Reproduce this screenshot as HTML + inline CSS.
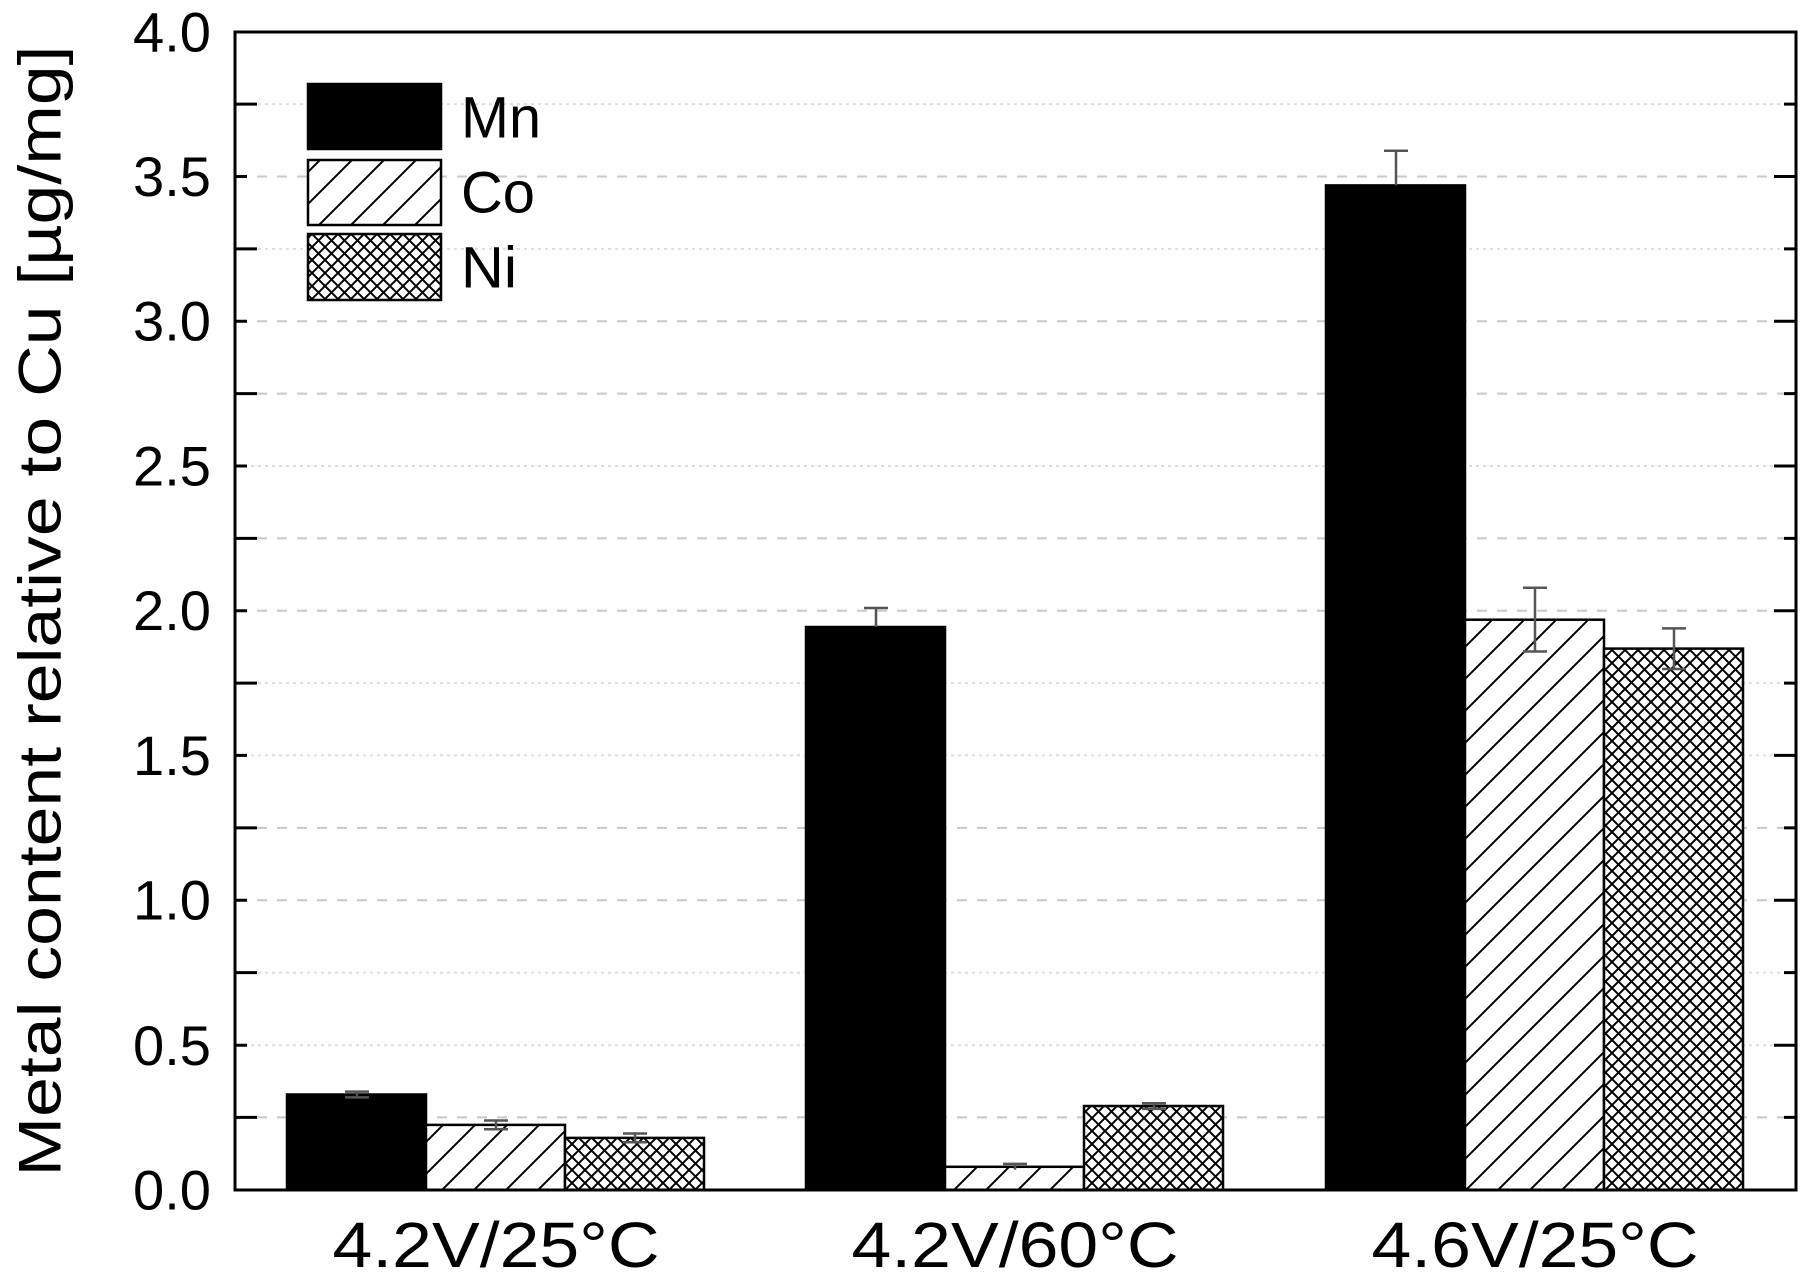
<!DOCTYPE html>
<html><head><meta charset="utf-8"><style>html,body{margin:0;padding:0;background:#fff}svg{display:block}</style></head>
<body>
<svg width="1800" height="1275" viewBox="0 0 1800 1275" xmlns="http://www.w3.org/2000/svg" font-family="'Liberation Sans', Arial, sans-serif">
<defs>
<pattern id="diag" patternUnits="userSpaceOnUse" width="32" height="32">
<rect width="32" height="32" fill="#fff"/>
<path d="M-8,40 L40,-8 M-24,24 L24,-24 M8,56 L56,8" stroke="#000" stroke-width="2"/>
</pattern>
<pattern id="cross" patternUnits="userSpaceOnUse" width="13" height="13">
<rect width="13" height="13" fill="#fff"/>
<path d="M0,0 L13,13 M13,0 L0,13" stroke="#000" stroke-width="2"/>
</pattern>
</defs>
<g stroke="#c8c8c8" stroke-width="2">
<line x1="237" x2="1794" y1="1045.3" y2="1045.3" stroke-dasharray="3,4" stroke="#ddd"/>
<line x1="237" x2="1794" y1="900.2" y2="900.2" stroke-dasharray="10,10"/>
<line x1="237" x2="1794" y1="755.4" y2="755.4" stroke-dasharray="3,4" stroke="#ddd"/>
<line x1="237" x2="1794" y1="610.7" y2="610.7" stroke-dasharray="10,10"/>
<line x1="237" x2="1794" y1="466" y2="466" stroke-dasharray="3,4" stroke="#ddd"/>
<line x1="237" x2="1794" y1="321.2" y2="321.2" stroke-dasharray="10,10"/>
<line x1="237" x2="1794" y1="176.5" y2="176.5" stroke-dasharray="10,10"/>
<line x1="237" x2="1794" y1="248.9" y2="248.9" stroke-dasharray="3,4" stroke="#ddd"/>
<line x1="237" x2="1794" y1="393.6" y2="393.6" stroke-dasharray="10,10"/>
<line x1="237" x2="1794" y1="538.4" y2="538.4" stroke-dasharray="10,10"/>
<line x1="237" x2="1794" y1="683.1" y2="683.1" stroke-dasharray="3,4" stroke="#ddd"/>
<line x1="237" x2="1794" y1="827.9" y2="827.9" stroke-dasharray="10,10"/>
<line x1="237" x2="1794" y1="972.6" y2="972.6" stroke-dasharray="3,4" stroke="#ddd"/>
<line x1="237" x2="1794" y1="1117.4" y2="1117.4" stroke-dasharray="10,10"/>
<line x1="237" x2="1794" y1="104.1" y2="104.1" stroke-dasharray="3,4" stroke="#ddd"/>
</g>
<g stroke="#000" stroke-width="2.5">
<rect x="287" y="1094.5" width="139" height="95.5" fill="#000"/>
<rect x="426" y="1124.9" width="139" height="65.1" fill="url(#diag)"/>
<rect x="565" y="1137.9" width="139" height="52.1" fill="url(#cross)"/>
<rect x="806" y="627" width="139" height="563" fill="#000"/>
<rect x="945" y="1166.8" width="139" height="23.2" fill="url(#diag)"/>
<rect x="1084" y="1106" width="139" height="84" fill="url(#cross)"/>
<rect x="1326" y="185.4" width="139" height="1004.6" fill="#000"/>
<rect x="1465" y="619.7" width="139" height="570.3" fill="url(#diag)"/>
<rect x="1604" y="648.6" width="139" height="541.4" fill="url(#cross)"/>
</g>
<g stroke="#555" stroke-width="2.5" fill="none">
<path d="M357,1097.4V1091.6M345,1091.6H369M345,1097.4H369"/>
<path d="M496,1129.2V1120.5M484,1120.5H508M484,1129.2H508"/>
<path d="M635,1142.2V1133.5M623,1133.5H647M623,1142.2H647"/>
<path d="M876,627V608M864,608H888"/>
<path d="M1015,1169.7V1163.9M1003,1163.9H1027"/>
<path d="M1154,1108.9V1103.2M1142,1103.2H1166M1142,1108.9H1166"/>
<path d="M1396,185.4V150.7M1384,150.7H1408"/>
<path d="M1535,651.5V587.8M1523,587.8H1547M1523,651.5H1547"/>
<path d="M1674,669V628.4M1662,628.4H1686M1662,669H1686"/>
</g>
<rect x="235" y="32" width="1561" height="1158" fill="none" stroke="#000" stroke-width="3"/>
<g stroke="#000" stroke-width="3">
<path d="M235,1045.3h12M235,755.4h12M235,466h12M235,176.5h12M235,900.2h12M235,610.7h12M235,321.2h12"/>
<path d="M235,1117.4h22M235,972.6h22M235,827.9h22M235,683.1h22M235,538.4h22M235,393.6h22M235,248.9h22M235,104.1h22"/>
<path d="M1796,1117.4h-12M1796,972.6h-12M1796,827.9h-12M1796,683.1h-12M1796,538.4h-12M1796,393.6h-12M1796,248.9h-12M1796,104.1h-12"/>
<path d="M1796,1045.3h-22M1796,900.2h-22M1796,755.4h-22M1796,610.7h-22M1796,466h-22M1796,321.2h-22M1796,176.5h-22"/>
</g>
<g font-size="56" text-anchor="end" fill="#000" dominant-baseline="central">
<text x="211" y="32" textLength="78" lengthAdjust="spacingAndGlyphs">4.0</text>
<text x="211" y="176.5" textLength="78" lengthAdjust="spacingAndGlyphs">3.5</text>
<text x="211" y="321.2" textLength="78" lengthAdjust="spacingAndGlyphs">3.0</text>
<text x="211" y="466" textLength="78" lengthAdjust="spacingAndGlyphs">2.5</text>
<text x="211" y="610.7" textLength="78" lengthAdjust="spacingAndGlyphs">2.0</text>
<text x="211" y="755.4" textLength="78" lengthAdjust="spacingAndGlyphs">1.5</text>
<text x="211" y="900.2" textLength="78" lengthAdjust="spacingAndGlyphs">1.0</text>
<text x="211" y="1045.3" textLength="78" lengthAdjust="spacingAndGlyphs">0.5</text>
<text x="211" y="1190" textLength="78" lengthAdjust="spacingAndGlyphs">0.0</text>
</g>
<g font-size="64" text-anchor="middle" fill="#000" dominant-baseline="central">
<text x="496" y="1245" textLength="327" lengthAdjust="spacingAndGlyphs">4.2V/25°C</text>
<text x="1015" y="1245" textLength="327" lengthAdjust="spacingAndGlyphs">4.2V/60°C</text>
<text x="1535" y="1245" textLength="327" lengthAdjust="spacingAndGlyphs">4.6V/25°C</text>
</g>
<text transform="translate(40,611) rotate(-90)" font-size="60" text-anchor="middle" dominant-baseline="central" textLength="1131" lengthAdjust="spacingAndGlyphs">Metal content relative to Cu [µg/mg]</text>
<g stroke="#000" stroke-width="2.5">
<rect x="308" y="84" width="133" height="65" fill="#000"/>
<rect x="308" y="160" width="133" height="65" fill="url(#diag)"/>
<rect x="308" y="234" width="133" height="66" fill="url(#cross)"/>
</g>
<g font-size="58" fill="#000" dominant-baseline="central">
<text x="461" y="118" textLength="80" lengthAdjust="spacingAndGlyphs">Mn</text>
<text x="461" y="193" textLength="74" lengthAdjust="spacingAndGlyphs">Co</text>
<text x="461" y="268" textLength="56" lengthAdjust="spacingAndGlyphs">Ni</text>
</g>
</svg>
</body></html>
